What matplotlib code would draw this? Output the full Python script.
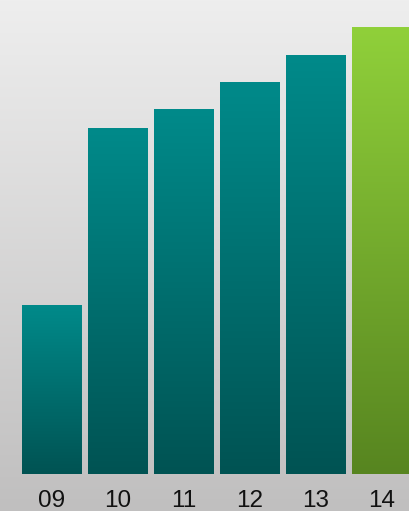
import numpy as np
import matplotlib
matplotlib.use("Agg")
import matplotlib.pyplot as plt
from matplotlib.colors import LinearSegmentedColormap

categories = ["09", "10", "11", "12", "13", "14"]
values = [169, 346, 365, 392, 419, 447]
highlight = [False, False, False, False, False, True]

W, H = 409, 511
fig = plt.figure(figsize=(W / 100, H / 100), dpi=100)

# background gradient
bg = fig.add_axes([0, 0, 1, 1])
bg.set_axis_off()
bgcmap = LinearSegmentedColormap.from_list("bg", ["#c0bfbf", "#eeeeee"])
bg.imshow(np.linspace(0, 1, 256).reshape(-1, 1), aspect="auto", cmap=bgcmap,
          origin="lower", extent=[0, 1, 0, 1])
bg.set_xlim(0, 1)
bg.set_ylim(0, 1)

bottom_px = 474
ax = fig.add_axes([0, (H - bottom_px) / H, 1, bottom_px / H])
ax.set_axis_off()
ax.patch.set_alpha(0)
x = np.arange(len(categories))
pitch = 66
width = 60 / pitch
left = -52 / pitch
right = (W - 52) / pitch
ax.set_xlim(left, right)
ax.set_ylim(0, bottom_px)

teal = LinearSegmentedColormap.from_list("teal", ["#005353", "#008a8a"])
green = LinearSegmentedColormap.from_list("green", ["#578520", "#90d03a"])

bars = ax.bar(x, values, width=width, color="none", edgecolor="none")
grad = np.linspace(0, 1, 256).reshape(-1, 1)
for b, hl in zip(bars, highlight):
    x0, y0 = b.get_x(), b.get_y()
    ax.imshow(grad, aspect="auto", cmap=green if hl else teal, origin="lower",
              extent=[x0, x0 + b.get_width(), y0, y0 + b.get_height()], zorder=2)
ax.set_xlim(left, right)
ax.set_ylim(0, bottom_px)

for xi, lab in zip(x, categories):
    ax.text(xi, -33, lab, ha="center", va="baseline", fontsize=17.5,
            family="Liberation Sans", color="#111111", clip_on=False)

fig.savefig("out.png", dpi=100)
